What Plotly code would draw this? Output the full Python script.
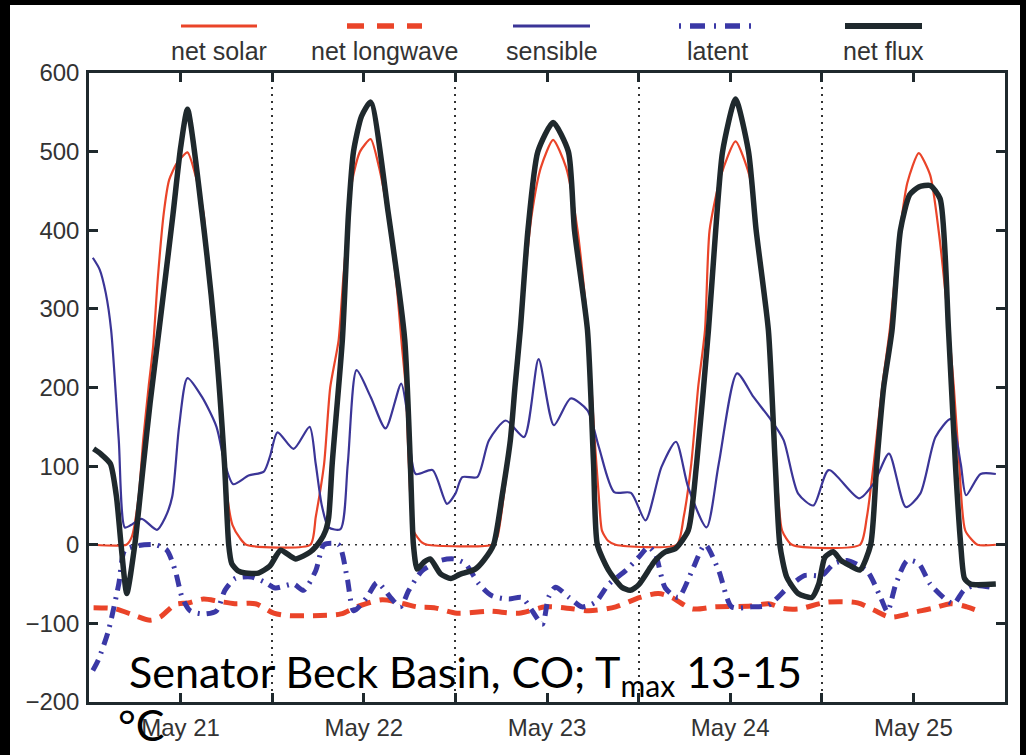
import plotly.graph_objects as go

# time axis: hours since May 20 12:00 (left edge of the plot)
solar_h = [0.6, 4.9, 5.6, 6.5, 7.1, 7.8, 8.4, 9.0, 9.8, 10.5, 11.5, 12.9, 14.0, 15.0, 15.7, 16.4, 17.0, 17.6, 18.2, 18.8, 19.8, 20.6,
           29.0, 29.7, 30.8, 31.6, 32.7, 33.3, 34.5, 35.5, 36.9, 38.0, 39.1, 40.3, 41.0, 41.5, 41.9, 42.5, 43.6, 44.3,
           52.8, 53.5, 54.3, 55.2, 56.0, 57.0, 58.0, 59.2, 60.8, 62.5, 64.0, 65.3, 66.2, 66.8, 67.2, 68.0, 69.0,
           77.0, 77.9, 78.9, 79.8, 80.7, 81.3, 82.8, 84.7, 86.5, 87.5, 89.0, 89.8, 90.3, 90.8, 92.1,
           101.0, 101.9, 102.8, 103.9, 104.9, 106.0, 107.2, 108.7, 110.2, 111.3, 112.5, 113.3, 114.0, 114.8, 116.4, 118.8]
solar_v = [0, 0, 10, 61, 133, 200, 252, 337, 422, 464, 485, 499, 468, 422, 337, 260, 200, 120, 55, 25, 8, 0,
           0, 35, 103, 200, 260, 337, 464, 500, 516, 480, 422, 330, 252, 200, 103, 18, 3, 0,
           0, 10, 60, 135, 220, 330, 420, 480, 515, 480, 400, 280, 140, 60, 18, 5, 0,
           0, 35, 103, 200, 273, 400, 470, 513, 470, 400, 273, 150, 60, 18, 0,
           0, 35, 103, 200, 273, 380, 460, 498, 470, 400, 290, 200, 103, 18, 0, 0]

longwave_h = [0.6, 3.4, 6.0, 8.0, 9.3, 11.3, 13.0, 15.0, 17.0, 19.1, 21.8, 24.2, 26.0, 30.3, 33.0, 35.1, 38.4, 41.25,
              43.0, 45.2, 48.2, 52.4, 56.3, 59.8, 63.3, 65.5, 69.0, 72.2, 74.6, 76.35, 79.0, 82.0, 86.7, 89.0, 91.0,
              93.0, 96.7, 100.7, 102.8, 105.0, 108.5, 110.5, 112.9, 115.0, 117.0]
longwave_v = [-80, -81.5, -90, -96, -92, -76, -74, -69, -72, -75, -75, -87, -90, -90, -88, -79, -70, -75,
              -79, -80, -87, -84.5, -87, -79, -81.5, -84, -79, -67, -62, -67, -81.5, -79, -78, -75, -81,
              -81.5, -73, -74, -83, -92, -85, -81, -75, -79, -86]

sensible_h = [0.5, 1.4, 2.2, 2.9, 3.9, 4.7, 5.5, 6.9, 8.9, 10.0, 10.9, 11.8, 12.9, 14.8, 16.7, 17.8, 18.9, 20.9, 22.9,
              23.7, 24.7, 26.8, 28.9, 29.7, 30.5, 31.4, 32.95, 33.9, 35.05, 36.9, 38.85, 40.9, 41.7, 42.8, 45.0,
              46.9, 48.0, 48.9, 50.85, 52.4, 54.6, 57.0, 58.9, 60.9, 63.1, 65.3, 66.8, 68.8, 71.0, 72.9, 75.0,
              76.9, 78.5, 80.9, 82.5, 84.9, 87.05, 89.4, 91.0, 92.9, 94.9, 96.9, 100.9, 102.8, 104.8, 107.0,
              108.9, 110.9, 112.9, 114.2, 114.9, 116.8, 118.8]
sensible_v = [365, 350, 320, 273, 133, 22, 25, 33, 19, 35, 61, 150, 212, 188, 150, 103, 77, 88, 93,
              112, 143, 122, 150, 103, 50, 22, 20, 103, 222, 188, 148, 205, 167, 90, 95,
              52, 65, 86, 86, 133, 158, 137, 236, 152, 186, 171, 124, 67, 66, 31, 99,
              131, 73, 22, 103, 218, 188, 158, 133, 65, 50, 95, 59, 78, 116, 48,
              65, 137, 160, 103, 63, 90, 90]

latent_h = [0.5, 1.2, 2.55, 3.9, 4.7, 6.5, 8.7, 10.2, 11.3, 12.2, 13.25, 15.0, 16.7, 17.8, 19.15, 21.3, 23.1, 24.4,
            26.8, 28.1, 29.7, 30.8, 32.7, 33.8, 34.7, 36.4, 37.75, 39.5, 40.8, 41.9, 43.65, 46.05, 47.8, 49.3,
            51.1, 52.8, 55.0, 56.7, 58.05, 59.4, 60.2, 61.1, 62.9, 64.6, 66.35, 68.1, 70.3, 72.0, 73.3, 74.2,
            75.5, 77.2, 79.0, 80.7, 82.5, 84.2, 86.8, 89.0, 91.6, 93.8, 96.0, 97.6, 99.3, 101.9, 103.7, 104.6,
            105.7, 107.2, 108.7, 110.2, 112.4, 113.3, 114.6, 115.9, 118.1]
latent_v = [-160, -147, -109, -50, -7, -1, 0, -7, -33, -67, -84, -88, -84, -58, -43, -41, -48, -55,
            -50, -58, -33, 0, 0, -41, -84, -67, -48, -67, -79, -58, -33, -20, -18, -24,
            -50, -65, -69, -67, -84, -101, -67, -54, -67, -79, -73, -50, -33, -16, -3, -12,
            -55, -67, -33, 0, -33, -79, -79, -77, -54, -39, -39, -24, -20, -33, -67, -85,
            -50, -20, -24, -50, -71, -75, -58, -52, -54]

netflux_h = [0.6, 1.6, 2.8, 3.6, 4.2, 4.95, 6.0, 7.1, 8.0, 9.2, 11.0, 12.0, 12.9, 14.8, 16.55, 17.75, 18.3, 18.7, 19.5,
             20.5, 22.2, 23.7, 25.1, 27.05, 29.0, 30.3, 31.0, 31.4, 31.86, 33.2, 34.0, 34.65, 35.7, 36.9, 39.2, 41.35,
             42.1, 42.5, 43.0, 43.9, 44.7, 46.05, 47.4, 48.5, 50.6, 51.7, 53.0, 54.1, 55.2, 55.8, 56.5, 57.5,
             58.8, 60.8, 62.8, 63.6, 65.3, 66.1, 66.6, 68.1, 69.8, 70.9, 72.0, 73.6, 74.2, 75.5, 76.8, 78.5,
             79.6, 81.15, 82.1, 83.0, 84.7, 86.4, 87.4, 89.0, 89.9, 90.5, 91.4, 92.9, 94.7, 95.6, 96.4, 97.5,
             98.5, 99.6, 101.0, 102.4, 103.2, 104.1, 105.2, 106.3, 107.5, 108.7, 110.2, 111.5, 112.6, 113.5,
             114.2, 114.7, 115.5, 118.8]
netflux_v = [122, 115, 103, 61, 0, -62, 0, 100, 180, 275, 420, 505, 554, 422, 262, 103, 0, -24, -33,
             -36, -36, -27, -7, -18, -9, 5, 18, 35, 103, 262, 422, 500, 545, 563, 422, 262,
             103, 0, -31, -22, -18, -37, -43, -38, -31, -20, 0, 61, 133, 200, 273, 400,
             500, 537, 500, 400, 273, 103, 0, -33, -54, -58, -51, -28, -20, -9, -5, 18,
             103, 273, 400, 500, 567, 500, 400, 273, 103, 0, -41, -62, -67, -50, -16, -9,
             -20, -26, -32, 0, 103, 200, 273, 400, 445, 455, 457, 440, 273, 103,
             0, -43, -50, -50]

day_ticks = [12, 36, 60, 84, 108]
day_labels = ["May 21", "May 22", "May 23", "May 24", "May 25"]
midnights = [24, 48, 72, 96]
y_ticks = [-200, -100, 0, 100, 200, 300, 400, 500, 600]

RED = "#ea4429"
BLUE = "#3b3597"
BLUE2 = "#3a38a6"
BLK = "#1f292d"
AX = "#1f292d"

W, H = 1026, 755
ML, MR, MT, MB = 89, 21, 73, 53
PW = W - ML - MR
PH = H - MT - MB


def px(x):
    return (x - ML) / PW


def py(y):
    return (H - MB - y) / PH


fig = go.Figure()
fig.add_trace(go.Scatter(x=solar_h, y=solar_v, mode="lines", name="net solar",
                         line=dict(color=RED, width=2.2, shape="spline", smoothing=0.6)))
fig.add_trace(go.Scatter(x=longwave_h, y=longwave_v, mode="lines", name="net longwave",
                         line=dict(color=RED, width=5, dash="14px,9px", shape="spline", smoothing=0.8)))
fig.add_trace(go.Scatter(x=sensible_h, y=sensible_v, mode="lines", name="sensible",
                         line=dict(color=BLUE, width=2.2, shape="spline", smoothing=0.7)))
fig.add_trace(go.Scatter(x=latent_h, y=latent_v, mode="lines", name="latent",
                         line=dict(color=BLUE2, width=5, dash="12px,7px,2px,7px", shape="spline", smoothing=0.7)))
fig.add_trace(go.Scatter(x=netflux_h, y=netflux_v, mode="lines", name="net flux",
                         line=dict(color=BLK, width=5.5, shape="spline", smoothing=0.6)))

shapes = []
# dotted zero line
shapes.append(dict(type="line", xref="paper", yref="y", x0=0, x1=1, y0=0, y1=0,
                   line=dict(color="#333333", width=1.5, dash="2px,5px"), layer="below"))
# black border strips of the picture
shapes.append(dict(type="rect", xref="paper", yref="paper", x0=px(0), x1=px(10), y0=py(H), y1=py(0),
                   fillcolor="black", line=dict(width=0)))
shapes.append(dict(type="rect", xref="paper", yref="paper", x0=px(0), x1=px(W), y0=py(5), y1=py(0),
                   fillcolor="black", line=dict(width=0)))
shapes.append(dict(type="rect", xref="paper", yref="paper", x0=px(1020), x1=px(W), y0=py(H), y1=py(0),
                   fillcolor="black", line=dict(width=0)))

# custom legend (sample line above label)
legend_items = [
    ("net solar", RED, 3, "solid", 181, 257),
    ("net longwave", RED, 5.5, "17px,13px", 347, 422),
    ("sensible", BLUE, 3, "solid", 513, 590),
    ("latent", BLUE2, 5.5, "2px,9px,15px,9px", 679, 755),
    ("net flux", BLK, 6, "solid", 845, 922),
]
annotations = []
for name, col, wd, ds, xa, xb in legend_items:
    shapes.append(dict(type="line", xref="paper", yref="paper", x0=px(xa), x1=px(xb), y0=py(26), y1=py(26),
                       line=dict(color=col, width=wd, dash=ds)))
    annotations.append(dict(text=name, xref="paper", yref="paper", x=px((xa + xb) / 2), y=py(51),
                            xanchor="center", yanchor="middle", showarrow=False,
                            font=dict(family="Liberation Sans, Arial", size=25, color="#333333")))

annotations.append(dict(text="Senator Beck Basin, CO; T<sub>max</sub> 13-15", xref="paper", yref="paper",
                        x=px(127), y=py(674), xanchor="left", yanchor="middle", showarrow=False,
                        font=dict(family="Lato", size=43, color="black")))
annotations.append(dict(text="°C", xref="paper", yref="paper",
                        x=px(116), y=py(724), xanchor="left", yanchor="middle", showarrow=False,
                        font=dict(family="Lato", size=43, color="black")))

fig.update_layout(
    width=W, height=H,
    margin=dict(l=ML, r=MR, t=MT, b=MB),
    paper_bgcolor="white", plot_bgcolor="white",
    showlegend=False,
    shapes=shapes, annotations=annotations,
    xaxis=dict(range=[0, 120], tickmode="array", tickvals=day_ticks, ticktext=day_labels,
               showgrid=False, zeroline=False, showline=True, linewidth=2.5, linecolor=AX, mirror="ticks",
               ticks="inside", ticklen=9, tickwidth=2.5, tickcolor=AX, ticklabelstandoff=2,
               tickfont=dict(family="Liberation Sans, Arial", size=24, color="#333333"),
               minor=dict(tickmode="array", tickvals=midnights, ticks="inside", ticklen=9, tickwidth=2.5,
                          tickcolor=AX, showgrid=True, gridcolor="#333333", griddash="2px,5px", gridwidth=1.5)),
    yaxis=dict(range=[-200, 600], tickmode="array", tickvals=y_ticks,
               showgrid=False, zeroline=False, showline=True, linewidth=2.5, linecolor=AX, mirror="ticks",
               ticks="inside", ticklen=9, tickwidth=2.5, tickcolor=AX, ticklabelstandoff=2,
               tickfont=dict(family="Liberation Sans, Arial", size=24, color="#333333")),
)

fig.write_html("out.html")
